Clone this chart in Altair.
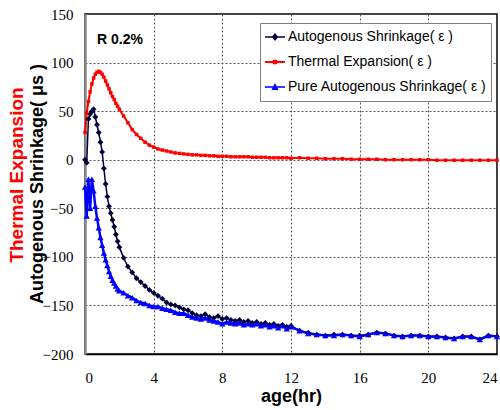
import altair as alt
import pandas as pd

# Series names, colours and marker styles
SERIES = ["Autogenous Shrinkage( ε )", "Thermal Expansion( ε )", "Pure Autogenous Shrinkage( ε )"]
COLORS = ["#00003a", "#ff0000", "#0000ff"]
MARKERS = ["diamond", "square", "triangle-up"]
MARKER_SIZES = [34, 12, 40]
LINE_WIDTHS = [1.5, 2.5, 1.5]

X_TICKS = [0, 4, 8, 12, 16, 20, 24]
Y_TICKS = [-200, -150, -100, -50, 0, 50, 100, 150]

# Elapsed age in hours
TIME = [
    0.0, 0.1, 0.2, 0.3, 0.4, 0.5, 0.6, 0.7, 0.8, 0.9, 1.0, 1.1, 1.2, 1.3, 1.4, 1.5, 1.6, 1.7, 1.8, 1.9, 2.0,
    2.25, 2.5, 2.75, 3.0, 3.25, 3.5, 3.75, 4.0, 4.25, 4.5, 4.75, 5.0, 5.25, 5.5, 5.75, 6.0, 6.25, 6.5, 6.75, 7.0,
    7.25, 7.5, 7.75, 8.0, 8.25, 8.5, 8.75, 9.0, 9.25, 9.5, 9.75, 10.0, 10.25, 10.5, 10.75, 11.0, 11.25, 11.5, 11.75, 12.0,
    12.5, 13.0, 13.5, 14.0, 14.5, 15.0, 15.5, 16.0, 16.5, 17.0, 17.5, 18.0, 18.5, 19.0, 19.5, 20.0, 20.5, 21.0,
    21.5, 22.0, 22.5, 23.0, 23.5, 24.0,
]

AUTOGENOUS = [
    0, -3, 42, 47, 50, 52, 44, 36, 28, 18, 8, -9, -25, -38, -48, -55, -62, -69, -77, -84, -90,
    -101, -110, -116, -122, -126, -130, -134, -137, -140, -143, -147, -149, -150, -152, -154, -155, -158, -160, -161, -159,
    -162, -163, -161, -164, -163, -165, -166, -165, -167, -166, -168, -167, -169, -168, -170, -169, -171, -170, -172, -171,
    -176, -178, -180, -181, -180, -180, -181, -181, -180, -178, -179, -181, -182, -181, -181, -182, -182, -183,
    -184, -182, -182, -185, -181, -182,
]

THERMAL = [
    28, 48, 60, 70, 78, 84, 88, 90, 91, 90, 88, 85, 81, 77, 73, 69, 65, 62, 58, 55, 52,
    45, 38, 31, 26, 22, 18, 15, 13, 11, 10, 9, 8, 7, 6.5, 6, 5.5, 5, 5, 4.5, 4.5,
    4, 4, 3.5, 3.5, 3.5, 3, 3, 3, 3, 3, 2.5, 2.5, 2.5, 2.5, 2, 2, 2, 2, 2, 1.5,
    2, 1.5, 1.5, 1, 1, 1, 0.5, 0.5, 0.5, 0.5, 0, 0, 0, 0, 0, 0, -0.5, -0.5,
    -0.5, -0.5, -0.5, -0.5, -0.5, -0.5,
]

PURE = [
    -28, -58, -20, -50, -20, -32, -48, -60, -70, -80, -88, -96, -103, -109, -115, -120, -124, -127, -130, -133, -135,
    -137, -140, -142, -145, -147, -148, -150, -151, -151, -153, -154, -155, -157, -158, -158, -160, -162, -163, -164, -163,
    -165, -166, -167, -169, -167, -168, -169, -168, -170, -169, -170, -169, -171, -170, -172, -171, -173, -171, -174, -172,
    -176, -179, -180, -181, -181, -180, -181, -182, -180, -178, -179, -181, -182, -181, -181, -182, -182, -183,
    -184, -182, -182, -185, -181, -182,
]

rows = []
for name, values in zip(SERIES, [AUTOGENOUS, THERMAL, PURE]):
    for t, v in zip(TIME, values):
        rows.append({"series": name, "age": t, "value": v})
df = pd.DataFrame(rows)

# Legend glyphs (filled paths): a thin bar with the series marker in the middle
LEGEND_GLYPHS = [
    "M-1,-0.07H1V0.07H-1Z M0,-0.4L0.33,0L0,0.4L-0.33,0Z",
    "M-1,-0.09H1V0.09H-1Z M-0.22,-0.22H0.22V0.22H-0.22Z",
    "M-1,-0.07H1V0.07H-1Z M0,-0.4L0.36,0.3H-0.36Z",
]

SANS = "Liberation Sans"
SERIF = "Liberation Serif"

x_enc = alt.X(
    "age:Q",
    scale=alt.Scale(domain=[0, 24], nice=False),
    axis=alt.Axis(
        values=X_TICKS, title="age(hr)", labelPadding=16, titlePadding=2,
        domainColor="black", domainWidth=1.5,
    ),
)
y_enc = alt.Y(
    "value:Q",
    scale=alt.Scale(domain=[-200, 150], nice=False),
    axis=alt.Axis(
        values=Y_TICKS, title="Autogenous Shrinkage( μs )", labelPadding=12,
        domainColor="#8a8a8a", domainWidth=2.5,
        titleAngle=270, titleX=-48, titleY=169.5, titleAlign="center", titleBaseline="middle",
    ),
)

lines = alt.Chart(df).mark_line().encode(
    x=x_enc,
    y=y_enc,
    stroke=alt.Stroke("series:N", scale=alt.Scale(domain=SERIES, range=COLORS), legend=None),
    strokeWidth=alt.StrokeWidth("series:N", scale=alt.Scale(domain=SERIES, range=LINE_WIDTHS), legend=None),
)

# One marker layer per series, each with its own marker shape
marker_layers = [
    alt.Chart(df)
    .transform_filter(alt.datum.series == name)
    .mark_point(shape=shape, filled=True, opacity=1, size=size, color=col)
    .encode(x=x_enc, y=y_enc)
    for name, shape, size, col in zip(SERIES, MARKERS, MARKER_SIZES, COLORS)
]

leg = alt.Legend(
    title=None, orient="none", legendX=175, legendY=9,
    fillColor="white", strokeColor="#808080", padding=4,
    symbolSize=400, clipHeight=20, rowPadding=5, labelOffset=2,
    labelFont=SANS, labelFontSize=14, labelColor="black", labelLimit=400,
)

# Legend-only layer: no marks are drawn, the scales carry the legend entries
legend_layer = alt.Chart(df).transform_filter("false").mark_point(filled=True, opacity=1).encode(
    x=x_enc,
    y=y_enc,
    color=alt.Color("series:N", scale=alt.Scale(domain=SERIES, range=COLORS), legend=leg),
    shape=alt.Shape("series:N", scale=alt.Scale(domain=SERIES, range=LEGEND_GLYPHS), legend=leg),
)

note = alt.Chart(pd.DataFrame({"age": [0.7], "value": [123], "label": ["R 0.2%"]})).mark_text(
    align="left", baseline="middle", font=SANS, fontSize=14, fontWeight="bold", color="black"
).encode(x=x_enc, y=y_enc, text="label:N")

red_title = alt.Chart(pd.DataFrame({"label": ["Thermal Expansion"]})).mark_text(
    angle=270, align="center", baseline="middle", font=SANS, fontSize=19, fontWeight="bold", color="#ff0000"
).encode(x=alt.value(-68), y=alt.value(161), text="label:N")

chart = (
    alt.layer(lines, *marker_layers, legend_layer, note, red_title)
    .resolve_scale(color="independent", shape="independent")
    .resolve_legend(color="independent", shape="independent")
    .properties(
        width=412, height=340,
        autosize=alt.AutoSizeParams(type="none"),
        padding={"left": 85, "top": 14, "right": 3, "bottom": 56},
        background="white",
    )
    .configure_view(stroke="black", strokeWidth=1.5)
    .configure_axis(
        grid=True, gridColor="#555555", gridDash=[2, 2], gridWidth=1,
        ticks=False, labelFont=SERIF, labelFontSize=15, labelColor="black",
        titleFont=SANS, titleFontWeight="bold", titleFontSize=18, titleColor="black",
    )
)

chart.save("out.html", embed_options={"renderer": "svg", "actions": False})
